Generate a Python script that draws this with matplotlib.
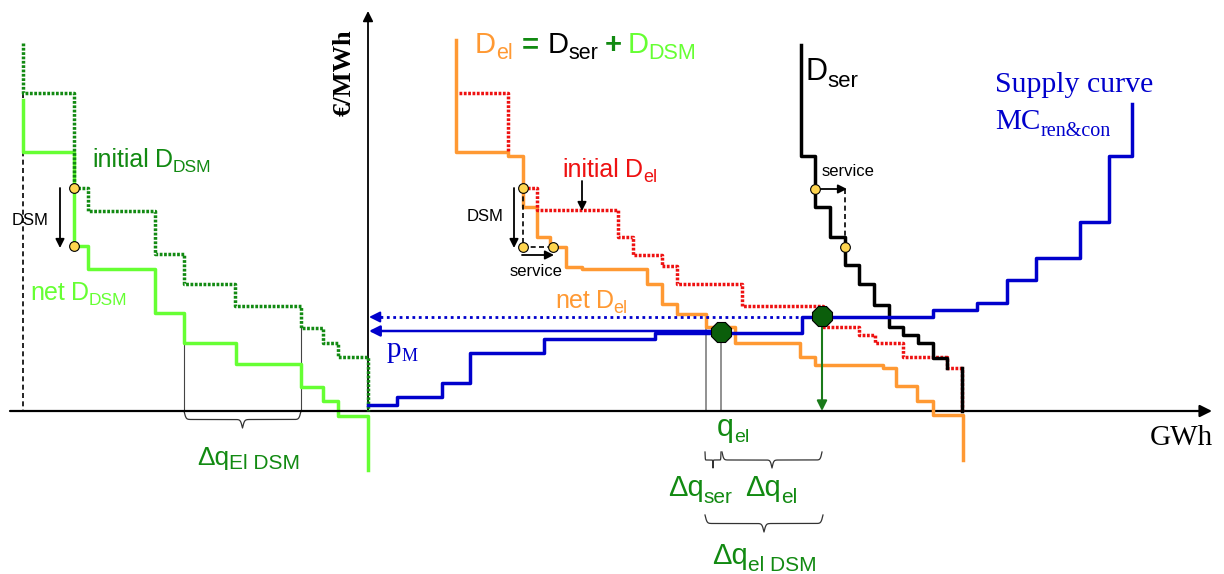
import numpy as np
import matplotlib.pyplot as plt

# all positions are in picture pixels (x to the right, y downwards)
# demand of DSM consumers (left part)
dsm_init_x = [23, 74, 88, 155, 184, 235, 301, 323, 338, 368]
dsm_init_y = [43, 93, 188, 211, 254, 284, 306, 328, 343, 357, 411]
dsm_net_x = [23, 74, 88, 155, 184, 236, 301, 323, 338, 368]
dsm_net_y = [100, 152, 246, 269, 313, 343, 364, 387, 401, 416, 470]

# electricity demand
del_net_x = [456, 508, 523, 537, 550, 566, 582, 647, 662, 677, 706, 735, 800,
             815, 883, 896, 917, 933, 963]
del_net_y = [40, 152, 156, 207, 237, 247, 267, 269, 284, 304, 314, 327, 343,
             357, 365, 368, 386, 401, 415, 460]
del_init1_x = [459, 508]
del_init1_y = [93, 93, 152]
del_init2_x = [523, 537, 618, 633, 662, 677, 742, 823, 859, 875, 903, 947, 962]
del_init2_y = [188, 188, 210, 237, 255, 266, 284, 306, 327, 335, 343, 357, 368, 411]

# service demand
dser_x = [801, 815, 830, 845, 859, 874, 889, 903, 918, 933, 947]
dser_y = [45, 156, 207, 237, 265, 284, 305, 327, 335, 343, 358, 368]
dser_tail_x = [962]
dser_tail_y = [368, 411]

# supply curve
sup_x = [368, 397, 442, 470, 544, 655, 802, 933, 977, 1007, 1036, 1080, 1109, 1132]
sup_y = [405, 405, 397, 383, 353, 339, 333, 317, 310, 303, 280, 258, 222, 156, 104]

# equilibria and shifted points
eq_x = [721, 822]
eq_y = [332, 316]
pt_x = [74, 74, 523, 523, 553, 815, 845]
pt_y = [188, 246, 188, 247, 247, 189, 247]

origin = (368, 411)

DKGREEN = '#128a12'
LTGREEN = '#66ff33'
ORANGE = '#ff9933'
RED = '#ee1111'
BLUE = '#0000cc'


def stairs(xs, ys):
    px, py = [xs[0]], [ys[0]]
    for i, x in enumerate(xs):
        if i > 0:
            px.append(x)
            py.append(ys[i])
        px.append(x)
        py.append(ys[i + 1])
    return px, py


fig = plt.figure(figsize=(12.24, 5.74), dpi=100)
ax = fig.add_axes([0, 0, 1, 1])
ax.set_xlim(0, 1224)
ax.set_ylim(574, 0)
ax.axis('off')
renderer = fig.canvas.get_renderer()

dot = (0, (0.8, 0.45))

# axes
ax.annotate('', xy=(1212, origin[1]), xytext=(10, origin[1]),
            arrowprops=dict(arrowstyle='-|>', color='k', lw=1.6, mutation_scale=18,
                            shrinkA=0, shrinkB=0))
ax.annotate('', xy=(origin[0], 11), xytext=origin,
            arrowprops=dict(arrowstyle='-|>', color='k', lw=1.3, mutation_scale=15,
                            shrinkA=0, shrinkB=0))
ax.plot([23, 23], [93, 411], color='k', lw=1.2, ls=(0, (3, 2)))

# helper lines for braces
ax.plot([184, 184], [343, 411], color='#444444', lw=0.8)
ax.plot([301, 301], [327, 411], color='#444444', lw=0.8)
ax.plot([706, 706], [327, 411], color='#888888', lw=1.3)
ax.plot([721, 721], [332, 411], color='#888888', lw=1.3)

# curves
ax.plot(*stairs(dsm_init_x, dsm_init_y), color=DKGREEN, lw=2.5, ls=dot, zorder=3)
ax.plot(*stairs(dsm_net_x, dsm_net_y), color=LTGREEN, lw=2.5, zorder=2)
ax.plot(*stairs(sup_x, sup_y), color=BLUE, lw=2.5, zorder=4)
ax.plot(*stairs(del_net_x, del_net_y), color=ORANGE, lw=2.5, zorder=3)
ax.plot(*stairs(del_init1_x, del_init1_y), color=RED, lw=2.5, ls=dot, zorder=3)
ax.plot(*stairs(del_init2_x, del_init2_y), color=RED, lw=2.5, ls=dot, zorder=3)
ax.plot(*stairs(dser_x, dser_y), color='k', lw=2.5, zorder=3)
ax.plot(*stairs(dser_tail_x, dser_tail_y), color='k', lw=2.5, zorder=3)

# price arrows
ax.annotate('', xy=(origin[0] + 1, eq_y[0] - 1), xytext=(eq_x[0], eq_y[0] - 1),
            arrowprops=dict(arrowstyle='-|>', color=BLUE, lw=1.8, mutation_scale=16,
                            shrinkA=0, shrinkB=0), zorder=4)
ax.plot([origin[0] + 12, eq_x[1]], [eq_y[1] + 1, eq_y[1] + 1], color=BLUE, lw=2.0,
        ls=(0, (1, 1.3)), zorder=4)
ax.annotate('', xy=(origin[0] + 1, eq_y[1] + 1), xytext=(origin[0] + 14, eq_y[1] + 1),
            arrowprops=dict(arrowstyle='-|>', color=BLUE, lw=1.5, mutation_scale=16,
                            shrinkA=0, shrinkB=0), zorder=4)
ax.annotate('', xy=(eq_x[1], origin[1]), xytext=(eq_x[1], eq_y[1]),
            arrowprops=dict(arrowstyle='-|>', color='#1a7a1a', lw=1.5, mutation_scale=15,
                            shrinkA=0, shrinkB=0), zorder=4)

# DSM / service arrows
arr = dict(arrowstyle='-|>', color='k', lw=1.3, mutation_scale=13, shrinkA=0, shrinkB=0)
ax.annotate('', xy=(60, 248), xytext=(60, 188), arrowprops=arr)
ax.annotate('', xy=(514, 248), xytext=(514, 188), arrowprops=arr)
ax.annotate('', xy=(554, 255), xytext=(522, 255), arrowprops=arr)
ax.annotate('', xy=(582, 211), xytext=(582, 181), arrowprops=arr)
ax.annotate('', xy=(847, 189), xytext=(815, 189), arrowprops=arr)
ax.plot([523, 523, 553], [188, 247, 247], color='k', lw=1.2, ls=(0, (3, 2)), zorder=3)
ax.plot([845, 845], [189, 247], color='k', lw=1.2, ls=(0, (3, 2)), zorder=3)

ax.plot(pt_x, pt_y, 'o', ms=7, mfc='#ffd54f', mec='k', mew=0.8, zorder=6)
ax.plot(eq_x, eq_y, '8', ms=15, mfc='#0b5e0b', mec='k', mew=0.8, zorder=6)


def brace(x0, x1, y, h):
    n = 200
    t = np.linspace(0, 1, n // 2 + 1)
    beta = 60.0
    half = 1 / (1 + np.exp(-beta * t)) + 1 / (1 + np.exp(-beta * (t - 1)))
    shape = np.concatenate((half, half[-2::-1]))
    xs = np.linspace(x0, x1, len(shape))
    ax.plot(xs, y + (shape - 0.5) * h, color='#333333', lw=0.9)


brace(184, 301, 411, 17)
brace(705, 721, 452, 16)
brace(722, 822, 452, 16)
brace(705, 823, 515, 17)


def rich(x, y, parts, family='Liberation Sans'):
    for part in parts:
        s, size, color, dy, gap = part[:5]
        weight = part[5] if len(part) > 5 else 'normal'
        t = ax.text(x, y + dy, s, fontsize=size, color=color, family=family,
                    weight=weight, va='baseline', ha='left', zorder=7)
        x += t.get_window_extent(renderer).width + gap


rich(92, 167, [('initial', 18, DKGREEN, 0, 6), ('D', 18, DKGREEN, 0, 0),
               ('DSM', 12.5, DKGREEN, 5, 0)])
rich(30, 300, [('net', 18, LTGREEN, 0, 6), ('D', 18, LTGREEN, 0, 0),
               ('DSM', 12.5, LTGREEN, 5, 0)])
rich(475, 53, [('D', 21, ORANGE, 0, 0), ('el', 15.5, ORANGE, 6, 9),
               ('=', 21, DKGREEN, 0, 9, 'bold'), ('D', 21, 'k', 0, 0),
               ('ser', 15.5, 'k', 6, 6), ('+', 21, DKGREEN, 0, 6, 'bold'),
               ('D', 21, LTGREEN, 0, 0), ('DSM', 15.5, LTGREEN, 6, 0)])
rich(805, 80, [('D', 22, 'k', 0, 0), ('ser', 16, 'k', 7, 0)])
rich(562, 177, [('initial', 18, RED, 0, 6), ('D', 18, RED, 0, 0), ('el', 13, RED, 5, 0)])
rich(555, 308, [('net', 18, ORANGE, 0, 6), ('D', 18, ORANGE, 0, 0),
                ('el', 13, ORANGE, 5, 0)])
rich(12, 225, [('DSM', 12, 'k', 0, 0)])
rich(467, 221, [('DSM', 12, 'k', 0, 0)])
rich(510, 276, [('service', 12, 'k', 0, 0)])
rich(822, 176, [('service', 12, 'k', 0, 0)])
rich(717, 436, [('q', 22, DKGREEN, 0, 0), ('el', 14, DKGREEN, 6, 0)])
rich(668, 496, [('Δq', 21, DKGREEN, 0, 0), ('ser', 15, DKGREEN, 7, 0)])
rich(745, 496, [('Δq', 21, DKGREEN, 0, 0), ('el', 15, DKGREEN, 7, 0)])
rich(712, 564, [('Δq', 21, DKGREEN, 0, 0), ('el DSM', 15, DKGREEN, 7, 0)])
rich(197, 465, [('Δq', 19, DKGREEN, 0, 0), ('El DSM', 15, DKGREEN, 4, 0)])
rich(387, 357, [('p', 21, BLUE, 0, 0), ('M', 13, BLUE, 4, 0)], family='Liberation Serif')
rich(995, 92, [('Supply curve', 21.5, BLUE, 0, 0)], family='Liberation Serif')
rich(995, 129, [('MC', 21, BLUE, 0, 0), ('ren&con', 14.5, BLUE, 7, 0)],
     family='Liberation Serif')
rich(1150, 445, [('GWh', 21, 'k', 0, 0)], family='Liberation Serif')
ax.text(344, 73, '€/MWh', rotation=90, fontsize=19, family='Liberation Serif',
        weight='bold', ha='center', va='center')

fig.savefig('out.png', dpi=100)
